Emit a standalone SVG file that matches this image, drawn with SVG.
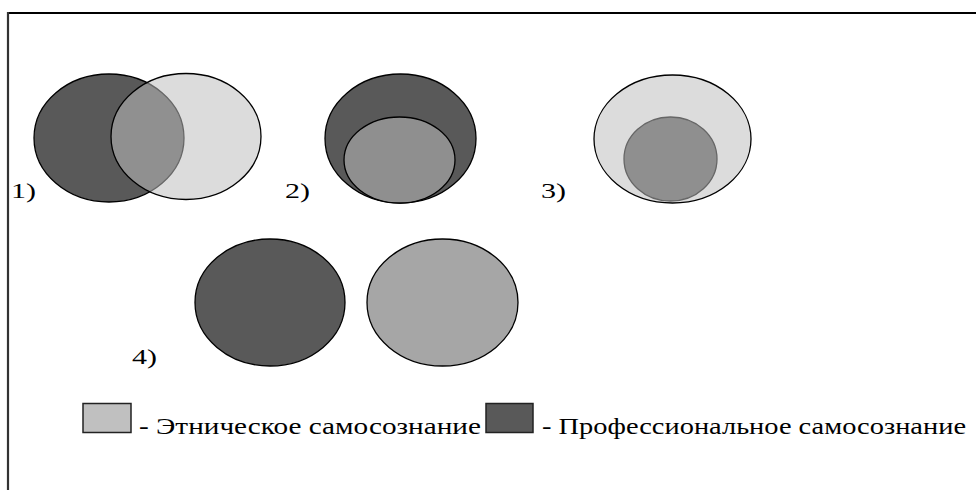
<svg xmlns="http://www.w3.org/2000/svg" width="976" height="490" viewBox="0 0 976 490">
<style>
.t{font-family:'Liberation Serif','DejaVu Serif',serif;fill:#000}
.lbl{font-size:21px}
.leg{font-size:23px}
.e{stroke:#000;stroke-width:1.3}
.dark{fill:#595959}
.light{fill:#dcdcdc}
.mid{fill:#8f8f8f}
.gray{fill:#a6a6a6}
</style>
<rect width="976" height="490" fill="#fff"/>
<g id="frame">
<line x1="7" y1="13" x2="976" y2="13" stroke="#000" stroke-width="2"/>
<line x1="8" y1="12" x2="8" y2="490" stroke="#333" stroke-width="2.2"/>
</g>
<g id="diagram1">
<ellipse class="e dark" cx="109" cy="138" rx="75" ry="64"/>
<ellipse cx="186" cy="136.5" rx="75" ry="63" fill="rgb(190,190,190)" fill-opacity="0.54" stroke="#000" stroke-width="1.3"/>
<text class="t lbl" x="11" y="198" textLength="25" lengthAdjust="spacingAndGlyphs">1)</text>
</g>
<g id="diagram2">
<ellipse class="e dark" cx="400.5" cy="138.5" rx="75.5" ry="64.5"/>
<ellipse class="e mid" cx="399.5" cy="160" rx="55.5" ry="43"/>
<text class="t lbl" x="285" y="198" textLength="25" lengthAdjust="spacingAndGlyphs">2)</text>
</g>
<g id="diagram3">
<ellipse class="e light" cx="672.5" cy="139" rx="78.5" ry="64"/>
<ellipse class="mid" cx="670.5" cy="159" rx="46.5" ry="42" stroke="#666" stroke-width="1.3"/>
<text class="t lbl" x="541" y="198" textLength="25" lengthAdjust="spacingAndGlyphs">3)</text>
</g>
<g id="diagram4">
<ellipse class="e dark" cx="270" cy="302.5" rx="75" ry="63.5"/>
<ellipse class="e gray" cx="442.5" cy="302.5" rx="75.5" ry="63.5"/>
<text class="t lbl" x="132" y="364" textLength="25" lengthAdjust="spacingAndGlyphs">4)</text>
</g>
<g id="legend">
<rect x="83" y="403.5" width="48" height="29" fill="#c0c0c0" stroke="#222" stroke-width="1.5"/>
<text class="t leg" x="139" y="434" textLength="342" lengthAdjust="spacingAndGlyphs">- Этническое самосознание</text>
<rect x="486" y="403.5" width="47" height="29" fill="#595959" stroke="#222" stroke-width="1.5"/>
<text class="t leg" x="542" y="434" textLength="424" lengthAdjust="spacingAndGlyphs">- Профессиональное самосознание</text>
</g>
</svg>
